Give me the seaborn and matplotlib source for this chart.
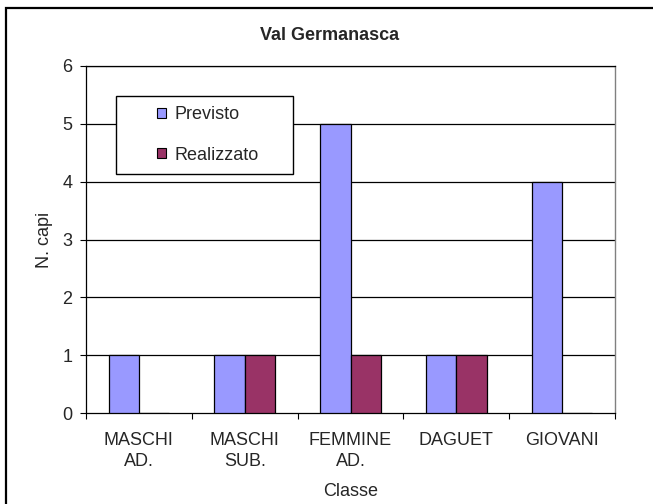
import matplotlib
matplotlib.use("Agg")
import matplotlib.pyplot as plt
import seaborn as sns
import pandas as pd
from matplotlib.patches import Patch, Rectangle

categories = ["MASCHI\nAD.", "MASCHI\nSUB.", "FEMMINE\nAD.", "DAGUET", "GIOVANI"]
previsto = [1, 1, 5, 1, 4]
realizzato = [0, 1, 1, 1, 0]
series_names = ["Previsto", "Realizzato"]
yticks = [0, 1, 2, 3, 4, 5, 6]

sns.set_theme(style="white")
plt.rcParams['font.family'] = ['Liberation Sans', 'DejaVu Sans']

df = pd.DataFrame({
    "Classe": categories * 2,
    "N. capi": previsto + realizzato,
    "Serie": [series_names[0]] * len(categories) + [series_names[1]] * len(categories),
})
palette = {"Previsto": "#9999FF", "Realizzato": "#993366"}

W, H = 653, 504
fig = plt.figure(figsize=(W / 100, H / 100), dpi=100)
L, R, T, B = 86, 615, 66, 413
ax = fig.add_axes([L / W, 1 - B / H, (R - L) / W, (B - T) / H])

sns.barplot(data=df, x="Classe", y="N. capi", hue="Serie", palette=palette,
            width=0.572, gap=0, edgecolor="black", linewidth=0.9,
            saturation=1, legend=False, ax=ax, zorder=3)

ax.set_ylim(0, 6)
ax.set_xlim(-0.5, len(categories) - 0.5)
ax.set_yticks(yticks)
ax.grid(False)
for v in yticks[1:]:
    ax.axhline(v, color="black", linewidth=0.9, zorder=1)

for s in ["left", "bottom", "top"]:
    ax.spines[s].set_color("black")
    ax.spines[s].set_linewidth(0.9)
ax.spines["right"].set_color("#808080")
ax.spines["right"].set_linewidth(1.0)

ax.tick_params(axis="y", which="major", direction="out", length=4.3, width=0.8,
               color="black", pad=5.5, labelsize=13, left=True)
ax.set_xticks(range(len(categories)))
ax.set_xticklabels(categories, fontsize=13, linespacing=1.28, va="top")
ax.set_xticks([i - 0.5 for i in range(len(categories) + 1)], minor=True)
ax.tick_params(axis="x", which="major", length=0, pad=14)
ax.tick_params(axis="x", which="minor", direction="out", length=4.3, width=0.8,
               color="black", bottom=True)

ax.set_xlabel("Classe", fontsize=13, labelpad=9)
ax.set_ylabel("N. capi", fontsize=13, labelpad=7)

# Legend box
ax.add_patch(Rectangle(((116 - L) / (R - L), (B - 174) / (B - T)),
                       (293 - 116) / (R - L), (174 - 96) / (B - T),
                       transform=ax.transAxes, facecolor="white",
                       edgecolor="black", linewidth=1.0, zorder=5))
handles = [Patch(facecolor=palette[n], edgecolor="black", linewidth=0.8) for n in series_names]
leg = ax.legend(handles, series_names, loc="center left",
                bbox_to_anchor=((157 - L) / (R - L), (B - 135) / (B - T)),
                frameon=False, borderpad=0, borderaxespad=0,
                handlelength=0.5, handleheight=0.5, handletextpad=0.45,
                labelspacing=1.28, fontsize=13)
leg.set_zorder(6)

fig.text(0.505, 1 - 40 / H, "Val Germanasca", ha="center", va="baseline",
         fontsize=13, fontweight="bold")

# outer chart frame (right and bottom edges fall outside the image)
fig.patches.append(Rectangle((6 / W, -0.2), 1.5, 1 - 8 / H + 0.2,
                             transform=fig.transFigure, fill=False,
                             edgecolor="black", linewidth=1.6))

fig.savefig("out.png", dpi=100)
